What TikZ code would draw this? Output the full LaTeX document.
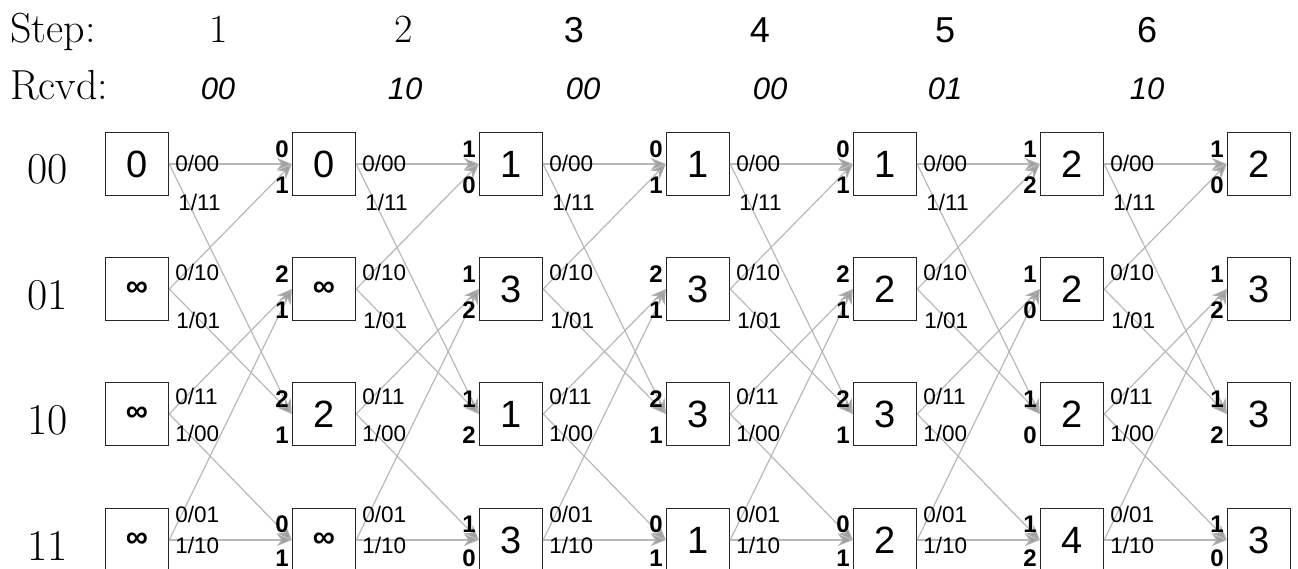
\documentclass[tikz,border=0pt]{standalone}
\usepackage{fontspec}
\newfontfamily\arialf{Liberation Sans}
\newcommand\infsym{{\bfseries\fontsize{31}{31}\selectfont ∞}}
\usetikzlibrary{arrows.meta,calc}
\begin{document}
\begin{tikzpicture}[x=1pt,y=-1pt,
  box/.style={draw=black!85, line width=1.4pt, minimum width=63pt, minimum height=63pt, inner sep=0pt, font=\arialf\fontsize{38}{38}\selectfont},
  edge/.style={draw=black!28, line width=1.2pt, -{Stealth[length=15pt,width=12pt,fill=black!38,color=black!32]}},
  olab/.style={font=\arialf\fontsize{22.5}{22.5}\selectfont, anchor=west, inner sep=0pt},
  ilab/.style={font=\arialf\bfseries\fontsize{24}{24}\selectfont, anchor=east, inner sep=0pt},
  head/.style={font=\fontsize{42}{42}\selectfont, anchor=base west, inner sep=0pt},
  rowlab/.style={font=\fontsize{44}{44}\selectfont, anchor=base, inner sep=0pt},
  stepser/.style={font=\fontsize{40}{40}\selectfont, anchor=base, inner sep=0pt},
  stepsans/.style={font=\arialf\fontsize{36}{36}\selectfont, anchor=base, inner sep=0pt},
  rcvd/.style={font=\arialf\itshape\fontsize{31}{31}\selectfont, anchor=base, inner sep=0pt}]
\useasboundingbox (0,0) rectangle (1298,569);

% headers
\node[head] (hstep) at (10,43) {Step:};
\node[head] (hrcvd) at (10,100) {Rcvd:};
\node[stepser] (s1) at (219,43) {1};
\node[stepser] (s2) at (404,43) {2};
\node[stepsans] (s3) at (574,43) {3};
\node[stepsans] (s4) at (760,43) {4};
\node[stepsans] (s5) at (945,43) {5};
\node[stepsans] (s6) at (1147,43) {6};
\node[rcvd] (r1) at (218,100) {00};
\node[rcvd] (r2) at (405,100) {10};
\node[rcvd] (r3) at (583,100) {00};
\node[rcvd] (r4) at (770,100) {00};
\node[rcvd] (r5) at (945,100) {01};
\node[rcvd] (r6) at (1147,100) {10};

% row labels
\node[rowlab] (l1) at (48,184) {00};
\node[rowlab] (l2) at (48,309) {01};
\node[rowlab] (l3) at (48,434) {10};
\node[rowlab] (l4) at (48,560) {11};

% boxes
\foreach \c/\x/\va/\vb/\vc/\vd in {1/137/0/\infsym/\infsym/\infsym, 2/324/0/\infsym/2/\infsym, 3/511/1/3/1/3, 4/698/1/3/3/1, 5/885/1/2/3/2, 6/1072/2/2/2/4, 7/1259/2/3/3/3}{
  \node[box] (b-\c-1) at (\x,164) {\va};
  \node[box] (b-\c-2) at (\x,289) {\vb};
  \node[box] (b-\c-3) at (\x,414) {\vc};
  \node[box] (b-\c-4) at (\x,540) {\vd};
}

% edges
\foreach \c [evaluate=\c as \n using int(\c+1)] in {1,...,6}{
  \draw[edge] (b-\c-1.east) -- (b-\n-1.west);
  \draw[edge] (b-\c-1.east) -- (b-\n-3.west);
  \draw[edge] (b-\c-2.east) -- (b-\n-1.west);
  \draw[edge] (b-\c-2.east) -- (b-\n-3.west);
  \draw[edge] (b-\c-3.east) -- (b-\n-2.west);
  \draw[edge] (b-\c-3.east) -- (b-\n-4.west);
  \draw[edge] (b-\c-4.east) -- (b-\n-2.west);
  \draw[edge] (b-\c-4.east) -- (b-\n-4.west);
  \node[olab] (o-\c-1a) at ($(b-\c-1.east)+(6,-1)$) {0/00};
  \node[olab] (o-\c-1b) at ($(b-\c-1.east)+(9,38)$) {1/11};
  \node[olab] (o-\c-2a) at ($(b-\c-2.east)+(6,-17)$) {0/10};
  \node[olab] (o-\c-2b) at ($(b-\c-2.east)+(7,31)$) {1/01};
  \node[olab] (o-\c-3a) at ($(b-\c-3.east)+(6,-18)$) {0/11};
  \node[olab] (o-\c-3b) at ($(b-\c-3.east)+(6,19)$) {1/00};
  \node[olab] (o-\c-4a) at ($(b-\c-4.east)+(6,-26)$) {0/01};
  \node[olab] (o-\c-4b) at ($(b-\c-4.east)+(6,5)$) {1/10};
}

% incoming metrics
\foreach \c/\a/\b/\d/\e/\f/\g/\h/\i in {2/0/1/2/1/2/1/0/1, 3/1/0/1/2/1/2/1/0, 4/0/1/2/1/2/1/0/1, 5/0/1/2/1/2/1/0/1, 6/1/2/1/0/1/0/1/2, 7/1/0/1/2/1/2/1/0}{
  \node[ilab] (m-\c-1a) at ($(b-\c-1.west)+(-3,-15)$) {\a};
  \node[ilab] (m-\c-1b) at ($(b-\c-1.west)+(-3,21)$) {\b};
  \node[ilab] (m-\c-2a) at ($(b-\c-2.west)+(-3,-15)$) {\d};
  \node[ilab] (m-\c-2b) at ($(b-\c-2.west)+(-3,21)$) {\e};
  \node[ilab] (m-\c-3a) at ($(b-\c-3.west)+(-3,-15)$) {\f};
  \node[ilab] (m-\c-3b) at ($(b-\c-3.west)+(-3,21)$) {\g};
  \node[ilab] (m-\c-4a) at ($(b-\c-4.west)+(-3,-16)$) {\h};
  \node[ilab] (m-\c-4b) at ($(b-\c-4.west)+(-3,18)$) {\i};
}
\end{tikzpicture}
\end{document}
